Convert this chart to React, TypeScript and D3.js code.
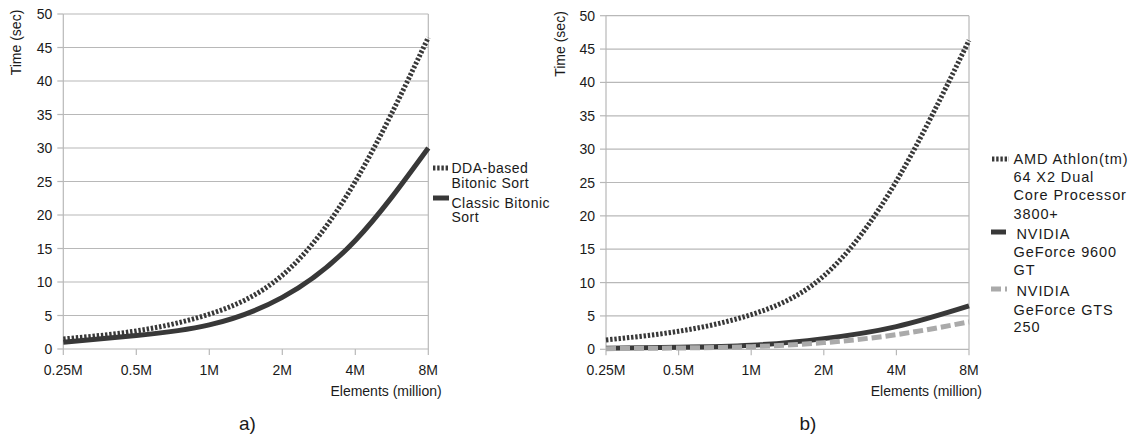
import React from "react";
import * as d3 from "d3";

const categories = ["0.25M", "0.5M", "1M", "2M", "4M", "8M"];
const yTicks = [0, 5, 10, 15, 20, 25, 30, 35, 40, 45, 50];

// Panel a)
const ddaBased = [1.5, 2.7, 5.2, 11.0, 25.0, 46.5];
const classicBitonic = [1.0, 2.0, 3.6, 7.7, 16.2, 30.0];

// Panel b)
const amdAthlon = [1.4, 2.7, 5.2, 11.0, 25.2, 46.3];
const gf9600 = [0.15, 0.3, 0.6, 1.6, 3.4, 6.5];
const gts250 = [0.1, 0.2, 0.4, 1.0, 2.2, 4.1];

const FONT = "'Liberation Sans', Arial, sans-serif";
const DARK = "#383838";
const GRAY = "#aaaaaa";
const GRID = "#b8b8b8";

type Style = { color: string; dash?: string; width: number };
const dotted: Style = { color: DARK, dash: "2.4,1.8", width: 5 };
const solid: Style = { color: DARK, width: 5 };
const dashed: Style = { color: GRAY, dash: "10,4", width: 5 };

type Series = { values: number[]; style: Style };
type LegendItem = { lines: string[]; style: Style; symY: number; symX0: number; symX1: number; textX: number; firstDx: number; baselines: number[] };

function Panel(props: {
  x0: number; x1: number; yBottom: number; yTop: number;
  series: Series[]; legend: LegendItem[]; legendFont: number; legendSpacing: number;
  yLabelX: number; yLabelY: number; xLabelRight: number; caption: string; captionX: number;
}) {
  const { x0, x1, yBottom, yTop } = props;
  const x = d3.scalePoint<string>().domain(categories).range([x0, x1]);
  const y = d3.scaleLinear().domain([0, 50]).range([yBottom, yTop]);
  const line = d3.line<number>()
    .x((_, i) => x(categories[i]) as number)
    .y((d) => y(d))
    .curve(d3.curveNatural);
  return (
    <g fontFamily={FONT} fill="#1a1a1a">
      {yTicks.map((t) => (
        <line key={"g" + t} x1={x0} x2={x1} y1={y(t)} y2={y(t)} stroke={GRID} strokeWidth={1.2} />
      ))}
      <line x1={x0} x2={x0} y1={yTop} y2={yBottom} stroke={GRID} strokeWidth={1.2} />
      <line x1={x1} x2={x1} y1={yTop} y2={yBottom} stroke={GRID} strokeWidth={1.2} />
      {yTicks.map((t) => (
        <line key={"yt" + t} x1={x0 - 6} x2={x0} y1={y(t)} y2={y(t)} stroke={GRID} strokeWidth={1.2} />
      ))}
      {categories.map((c) => (
        <line key={"xt" + c} x1={x(c)} x2={x(c)} y1={yBottom} y2={yBottom + 6} stroke={GRID} strokeWidth={1.2} />
      ))}
      {yTicks.map((t) => (
        <text key={"yl" + t} x={x0 - 11} y={y(t) + 5} textAnchor="end" fontSize={14}>{t}</text>
      ))}
      {categories.map((c) => (
        <text key={"xl" + c} x={x(c)} y={yBottom + 25.5} textAnchor="middle" fontSize={14}>{c}</text>
      ))}
      <text transform={`translate(${props.yLabelX},${props.yLabelY}) rotate(-90)`} textAnchor="middle" fontSize={14}>Time (sec)</text>
      <text x={props.xLabelRight} y={yBottom + 47} textAnchor="end" fontSize={14}>Elements (million)</text>
      <text x={props.captionX} y={yBottom + 81} textAnchor="middle" fontSize={19}>{props.caption}</text>
      {props.series.map((s, i) => (
        <path key={"s" + i} d={line(s.values) || ""} fill="none" stroke={s.style.color}
          strokeWidth={s.style.width} strokeDasharray={s.style.dash} />
      ))}
      {props.legend.map((it, i) => (
        <g key={"lg" + i}>
          <line x1={it.symX0} x2={it.symX1} y1={it.symY} y2={it.symY} stroke={it.style.color}
            strokeWidth={it.style.width} strokeDasharray={it.style.dash} />
          {it.lines.map((ln, j) => (
            <text key={j} x={it.textX + (j === 0 ? it.firstDx : 0)} y={it.baselines[j]}
              fontSize={props.legendFont} letterSpacing={props.legendSpacing}>{ln}</text>
          ))}
        </g>
      ))}
    </g>
  );
}

export default function App() {
  return (
    <svg width={1128} height={439} style={{ position: "absolute", left: 0, top: 0, background: "#fff" }}>
      <rect width={1128} height={439} fill="#fff" />
      <Panel x0={63.3} x1={428.3} yBottom={349} yTop={14}
        series={[{ values: ddaBased, style: dotted }, { values: classicBitonic, style: solid }]}
        legend={[
          { lines: ["DDA-based", "Bitonic Sort"], style: dotted, symY: 168, symX0: 433, symX1: 449, textX: 451.5, firstDx: 0, baselines: [173, 187.5] },
          { lines: ["Classic Bitonic", "Sort"], style: solid, symY: 198, symX0: 433, symX1: 449, textX: 451.5, firstDx: 0, baselines: [207.5, 222] },
        ]}
        legendFont={14} legendSpacing={0.5}
        yLabelX={21} yLabelY={42.5} xLabelRight={441.7} caption="a)" captionX={247.5} />
      <Panel x0={606} x1={969} yBottom={349.3} yTop={15.7}
        series={[{ values: amdAthlon, style: dotted }, { values: gf9600, style: solid }, { values: gts250, style: dashed }]}
        legend={[
          { lines: ["AMD Athlon(tm)", "64 X2 Dual", "Core Processor", "3800+"], style: dotted, symY: 159, symX0: 992, symX1: 1009, textX: 1013.5, firstDx: 0, baselines: [164, 182, 200, 218.5] },
          { lines: ["NVIDIA", "GeForce 9600", "GT"], style: solid, symY: 232, symX0: 991, symX1: 1006, textX: 1013.5, firstDx: 3, baselines: [238.5, 257, 275] },
          { lines: ["NVIDIA", "GeForce GTS", "250"], style: dashed, symY: 289, symX0: 991, symX1: 1007, textX: 1013.5, firstDx: 3, baselines: [296, 314.5, 332] },
        ]}
        legendFont={14.5} legendSpacing={0.9}
        yLabelX={565} yLabelY={44} xLabelRight={982} caption="b)" captionX={808} />
    </svg>
  );
}
